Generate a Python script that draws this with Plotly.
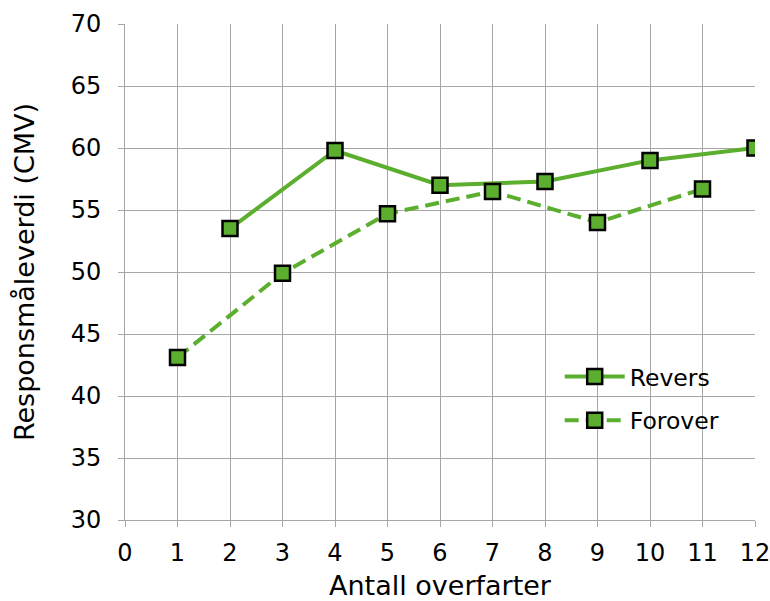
import plotly.graph_objects as go

revers_x = [2, 4, 6, 8, 10, 12]
revers_y = [53.5, 59.8, 57.0, 57.3, 59.0, 60.0]
forover_x = [1, 3, 5, 7, 9, 11]
forover_y = [43.1, 49.9, 54.7, 56.5, 54.0, 56.7]

x_ticks = list(range(0, 13))
y_ticks = list(range(30, 71, 5))

green = "#5BAE2E"
grid = "#A6A6A6"
marker = dict(symbol="square", size=15, color=green, line=dict(color="black", width=2.5))

fig = go.Figure()
fig.add_trace(go.Scatter(x=revers_x, y=revers_y, name="Revers", mode="lines+markers",
                         legendgroup="a",
                         line=dict(color=green, width=4), marker=marker))
fig.add_trace(go.Scatter(x=forover_x, y=forover_y, name="Forover", mode="lines+markers",
                         legendgroup="b",
                         line=dict(color=green, width=4, dash="14px,7px"), marker=marker))

font = "Verdana, DejaVu Sans, sans-serif"
fig.update_layout(
    width=770, height=601,
    margin=dict(l=125, r=15, t=24, b=81),
    plot_bgcolor="white", paper_bgcolor="white",
    font=dict(family=font, color="black", size=24),
    legend=dict(x=0.69, y=0.333, xanchor="left", yanchor="top", bgcolor="rgba(0,0,0,0)",
                font=dict(size=23.5), itemwidth=60, tracegroupgap=10),
)
fig.update_xaxes(range=[0, 12], tickvals=x_ticks, ticktext=[str(v) for v in x_ticks],
                 showgrid=True, gridcolor=grid, gridwidth=1,
                 showline=True, linecolor=grid, linewidth=1,
                 ticks="outside", ticklen=6, tickcolor=grid,
                 tickfont=dict(size=24), ticklabelstandoff=5, ticklabeloverflow="allow",
                 title=dict(text="Antall overfarter", font=dict(size=27), standoff=10),
                 zeroline=False, automargin=False)
fig.update_yaxes(range=[30, 70], tickvals=y_ticks,
                 showgrid=True, gridcolor=grid, gridwidth=1,
                 showline=True, linecolor=grid, linewidth=1,
                 ticks="outside", ticklen=6, tickcolor=grid,
                 tickfont=dict(size=24), ticklabelstandoff=12, ticklabeloverflow="allow",
                 title=dict(text="Responsmåleverdi (CMV)", font=dict(size=27), standoff=28),
                 zeroline=False, automargin=False)

fig.write_html("out.html", config={"displayModeBar": False},
               post_script="document.body.style.margin='0';document.body.style.overflow='hidden';")
